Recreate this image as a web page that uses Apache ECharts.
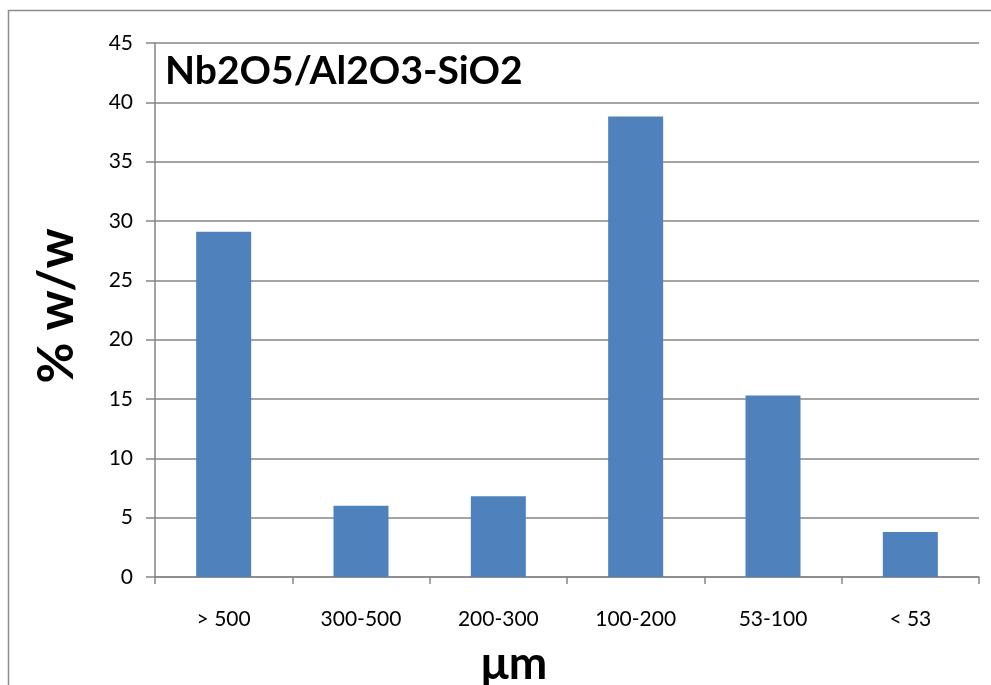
<!DOCTYPE html>
<html><head><meta charset="utf-8">
<script src="https://cdn.jsdelivr.net/npm/echarts@6/dist/echarts.min.js"></script>
<style>html,body{margin:0;padding:0;background:#fff}#c{width:991px;height:685px}</style>
</head><body><div id="c"></div>
<script>
const categories = ['> 500', '300-500', '200-300', '100-200', '53-100', '< 53'];
const values = [29.1, 6.0, 6.8, 38.8, 15.3, 3.8];
const chartTitle = 'Nb2O5/Al2O3-SiO2';
const yName = '% w/w';
const xName = 'μm';

const FONT = 'Lato';
const chart = echarts.init(document.getElementById('c'), null, {renderer: 'canvas'});
chart.setOption({
  animation: false,
  backgroundColor: '#fff',
  graphic: [
    {type: 'rect', shape: {x: 8.5, y: 10.5, width: 1000, height: 700}, style: {fill: 'none', stroke: '#8c8c8c', lineWidth: 1.5}, z: -1},
    {type: 'text', left: 165, top: 52, style: {text: chartTitle, font: 'bold 39px ' + FONT, fill: '#000'}},
    {type: 'text', x: 57, y: 306, rotation: Math.PI / 2, style: {text: yName, font: 'bold 50px ' + FONT, fill: '#000', textAlign: 'center', textVerticalAlign: 'middle'}},
    {type: 'text', x: 514, y: 664, style: {text: xName, font: 'bold 46px ' + FONT, fill: '#000', textAlign: 'center', textVerticalAlign: 'middle'}}
  ],
  grid: {left: 155, right: 12, top: 43, bottom: 108, outerBoundsMode: 'none', containLabel: false},
  xAxis: {
    type: 'category', data: categories,
    axisLine: {lineStyle: {color: '#868686', width: 1.5}},
    axisTick: {show: true, length: 7, lineStyle: {color: '#868686', width: 1.5}},
    axisLabel: {fontFamily: FONT, fontSize: 21, color: '#000', margin: 32}
  },
  yAxis: {
    type: 'value', min: 0, max: 45, interval: 5,
    axisLine: {show: true, lineStyle: {color: '#868686', width: 1.5}},
    axisTick: {show: true, length: 9, lineStyle: {color: '#868686', width: 1.5}},
    axisLabel: {fontFamily: FONT, fontSize: 21, color: '#000', margin: 22},
    splitLine: {lineStyle: {color: '#868686', width: 1.5}}
  },
  series: [{
    type: 'bar', data: values, barWidth: 55,
    itemStyle: {color: '#4f81bd'}
  }]
});
</script></body></html>
